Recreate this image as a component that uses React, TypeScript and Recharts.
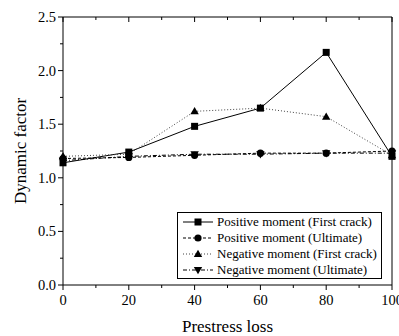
import { LineChart, Line, XAxis, YAxis, Legend } from "recharts";

// prestress loss (%) on the x axis
const LOSS = [0, 20, 40, 60, 80, 100];

// dynamic factor per series
const POS_FIRST = [1.14, 1.24, 1.48, 1.65, 2.17, 1.2];
const POS_ULT = [1.18, 1.19, 1.21, 1.23, 1.23, 1.25];
const NEG_FIRST = [1.2, 1.22, 1.62, 1.65, 1.57, 1.21];
const NEG_ULT = [1.16, 1.2, 1.22, 1.22, 1.23, 1.23];

const X_MAJOR = [0, 20, 40, 60, 80, 100];
const X_MINOR = [10, 30, 50, 70, 90];
const Y_MAJOR = [0, 0.5, 1.0, 1.5, 2.0, 2.5];
const Y_MINOR = [0.25, 0.75, 1.25, 1.75, 2.25];

const data = LOSS.map((loss, i) => ({
  loss,
  posFirst: POS_FIRST[i],
  posUlt: POS_ULT[i],
  negFirst: NEG_FIRST[i],
  negUlt: NEG_ULT[i],
}));

const X_TICKS = [...X_MAJOR, ...X_MINOR].sort((a, b) => a - b);
const Y_TICKS = [...Y_MAJOR, ...Y_MINOR].sort((a, b) => a - b);

const FONT = '"Liberation Serif", "Times New Roman", serif';
const TICK_FS = 14.5;

const isMajor = (v: number, list: number[]) => list.some((m) => Math.abs(m - v) < 1e-9);

// ---------- markers ----------

function Marker({ shape, cx, cy }: { shape: string; cx: number; cy: number }) {
  if (shape === "square") return <rect x={cx - 3.5} y={cy - 3.5} width={7} height={7} fill="#000" />;
  if (shape === "circle") return <circle cx={cx} cy={cy} r={3.6} fill="#000" />;
  if (shape === "up")
    return <polygon points={`${cx},${cy - 4.3} ${cx - 4.2},${cy + 3} ${cx + 4.2},${cy + 3}`} fill="#000" />;
  return <polygon points={`${cx},${cy + 4.3} ${cx - 4.2},${cy - 3} ${cx + 4.2},${cy - 3}`} fill="#000" />;
}

const SERIES = [
  { key: "posFirst", name: "Positive moment (First crack)", shape: "square", dash: undefined, color: "#000" },
  { key: "posUlt", name: "Positive moment (Ultimate)", shape: "circle", dash: "3 2", color: "#000" },
  { key: "negFirst", name: "Negative moment (First crack)", shape: "up", dash: "1 2", color: "#444" },
  { key: "negUlt", name: "Negative moment (Ultimate)", shape: "down", dash: "4 2 1 2", color: "#000" },
];

// ---------- ticks ----------

function BottomTick({ x, y, payload }: any) {
  const major = isMajor(payload.value, X_MAJOR);
  return (
    <g>
      <line x1={x} x2={x} y1={y} y2={y + (major ? 5 : 3)} stroke="#000" />
      {major && (
        <text x={x} y={y + 20} textAnchor="middle" fontSize={TICK_FS} fontFamily={FONT} fill="#000">
          {payload.value}
        </text>
      )}
    </g>
  );
}

function LeftTick({ x, y, payload }: any) {
  const major = isMajor(payload.value, Y_MAJOR);
  return (
    <g>
      <line x1={x} x2={x - (major ? 5 : 3)} y1={y} y2={y} stroke="#000" />
      {major && (
        <text x={x - 7} y={y + 5} textAnchor="end" fontSize={TICK_FS} fontFamily={FONT} fill="#000">
          {payload.value.toFixed(1)}
        </text>
      )}
    </g>
  );
}

function TopTick({ x, y, payload }: any) {
  const major = isMajor(payload.value, X_MAJOR);
  return <line x1={x} x2={x} y1={y} y2={y + (major ? 5 : 3)} stroke="#000" />;
}

function RightTick({ x, y, payload }: any) {
  const major = isMajor(payload.value, Y_MAJOR);
  return <line x1={x} x2={x - (major ? 5 : 3)} y1={y} y2={y} stroke="#000" />;
}

// ---------- legend ----------

function LegendBox() {
  return (
    <div
      style={{
        border: "1px solid #000",
        background: "#fff",
        fontFamily: FONT,
        fontSize: 13,
        color: "#000",
        paddingTop: 1,
        boxSizing: "border-box",
        width: 205,
        height: 67,
      }}
    >
      {SERIES.map((s) => (
        <div key={s.key} style={{ display: "flex", alignItems: "center", height: 16, lineHeight: "16px" }}>
          <svg width={32} height={16} style={{ marginLeft: 4, flex: "none" }}>
            <line x1={1} x2={31} y1={8} y2={8} stroke={s.color} strokeDasharray={s.dash} />
            <Marker shape={s.shape} cx={16} cy={8} />
          </svg>
          <span style={{ marginLeft: 3, whiteSpace: "nowrap" }}>{s.name}</span>
        </div>
      ))}
    </div>
  );
}

export default function App() {
  return (
    <div style={{ position: "absolute", left: 0, top: 0 }}>
      <LineChart width={399} height={336} data={data} margin={{ top: 16, right: 6, bottom: 0, left: 0 }}>
        <XAxis
          dataKey="loss"
          type="number"
          domain={[0, 100]}
          ticks={X_TICKS}
          interval={0}
          height={51}
          tickSize={0}
          tickMargin={0}
          tickLine={false}
          axisLine={{ stroke: "#000" }}
          tick={<BottomTick />}
          label={{
            value: "Prestress loss",
            position: "insideBottom",
            offset: 4,
            style: { fontFamily: FONT, fontSize: 17, fill: "#000" },
          }}
        />
        <XAxis
          xAxisId="top"
          orientation="top"
          dataKey="loss"
          type="number"
          domain={[0, 100]}
          ticks={X_TICKS}
          interval={0}
          height={1}
          tickSize={0}
          tickMargin={0}
          tickLine={false}
          axisLine={{ stroke: "#000" }}
          tick={<TopTick />}
        />
        <YAxis
          type="number"
          domain={[0, 2.5]}
          ticks={Y_TICKS}
          interval={0}
          width={63}
          tickSize={0}
          tickMargin={0}
          tickLine={false}
          axisLine={{ stroke: "#000" }}
          tick={<LeftTick />}
          label={{
            value: "Dynamic factor",
            angle: -90,
            position: "insideLeft",
            offset: 20,
            style: { fontFamily: FONT, fontSize: 17, fill: "#000", textAnchor: "middle" },
          }}
        />
        <YAxis
          yAxisId="right"
          orientation="right"
          type="number"
          domain={[0, 2.5]}
          ticks={Y_TICKS}
          interval={0}
          width={1}
          tickSize={0}
          tickMargin={0}
          tickLine={false}
          axisLine={{ stroke: "#000" }}
          tick={<RightTick />}
        />
        {SERIES.map((s) => (
          <Line
            key={s.key}
            dataKey={s.key}
            name={s.name}
            stroke={s.color}
            strokeWidth={1}
            strokeDasharray={s.dash}
            dot={(p: any) => <Marker key={`${s.key}-${p.index}`} shape={s.shape} cx={p.cx} cy={p.cy} />}
            activeDot={false}
            isAnimationActive={false}
          />
        ))}
        <Legend
          layout="vertical"
          align="center"
          verticalAlign="middle"
          content={() => <LegendBox />}
          wrapperStyle={{ left: 177, top: 212, width: 205, height: 67 }}
        />
      </LineChart>
    </div>
  );
}
